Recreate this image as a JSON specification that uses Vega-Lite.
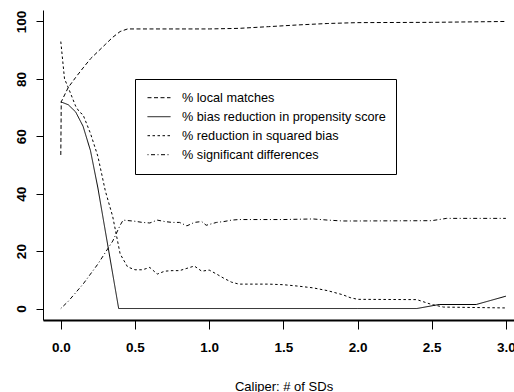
{
  "$schema": "https://vega.github.io/schema/vega-lite/v6.json",
  "width": 471,
  "height": 310,
  "autosize": {"type": "none"},
  "padding": {"left": 43, "top": 10, "right": 0, "bottom": 72},
  "background": "white",
  "config": {
    "font": "Liberation Sans",
    "view": {"stroke": null}
  },
  "datasets": {
    "series": [
      {"s": "% local matches", "x": 0, "y": 53.5},
      {"s": "% local matches", "x": 0.003, "y": 72},
      {"s": "% local matches", "x": 0.05, "y": 77},
      {"s": "% local matches", "x": 0.1, "y": 80.5},
      {"s": "% local matches", "x": 0.15, "y": 83.8},
      {"s": "% local matches", "x": 0.2, "y": 87},
      {"s": "% local matches", "x": 0.25, "y": 89.5},
      {"s": "% local matches", "x": 0.3, "y": 92},
      {"s": "% local matches", "x": 0.35, "y": 94.5},
      {"s": "% local matches", "x": 0.4, "y": 96.5},
      {"s": "% local matches", "x": 0.45, "y": 97.4},
      {"s": "% local matches", "x": 0.6, "y": 97.4},
      {"s": "% local matches", "x": 0.8, "y": 97.4},
      {"s": "% local matches", "x": 1.0, "y": 97.4},
      {"s": "% local matches", "x": 1.2, "y": 97.6},
      {"s": "% local matches", "x": 1.4, "y": 98.2},
      {"s": "% local matches", "x": 1.6, "y": 98.8},
      {"s": "% local matches", "x": 1.8, "y": 99.3},
      {"s": "% local matches", "x": 2.0, "y": 99.6},
      {"s": "% local matches", "x": 2.5, "y": 99.7},
      {"s": "% local matches", "x": 3.0, "y": 100},

      {"s": "% bias reduction in propensity score", "x": 0, "y": 72},
      {"s": "% bias reduction in propensity score", "x": 0.05, "y": 71},
      {"s": "% bias reduction in propensity score", "x": 0.1, "y": 68.5},
      {"s": "% bias reduction in propensity score", "x": 0.15, "y": 63.5},
      {"s": "% bias reduction in propensity score", "x": 0.2, "y": 55},
      {"s": "% bias reduction in propensity score", "x": 0.25, "y": 42},
      {"s": "% bias reduction in propensity score", "x": 0.3, "y": 27},
      {"s": "% bias reduction in propensity score", "x": 0.35, "y": 12},
      {"s": "% bias reduction in propensity score", "x": 0.39, "y": 0},
      {"s": "% bias reduction in propensity score", "x": 1.0, "y": 0},
      {"s": "% bias reduction in propensity score", "x": 2.0, "y": 0},
      {"s": "% bias reduction in propensity score", "x": 2.4, "y": 0},
      {"s": "% bias reduction in propensity score", "x": 2.55, "y": 1.4},
      {"s": "% bias reduction in propensity score", "x": 2.8, "y": 1.4},
      {"s": "% bias reduction in propensity score", "x": 3.0, "y": 4.3},

      {"s": "% reduction in squared bias", "x": 0, "y": 93},
      {"s": "% reduction in squared bias", "x": 0.025, "y": 80},
      {"s": "% reduction in squared bias", "x": 0.05, "y": 77},
      {"s": "% reduction in squared bias", "x": 0.1, "y": 70.5},
      {"s": "% reduction in squared bias", "x": 0.125, "y": 68.5},
      {"s": "% reduction in squared bias", "x": 0.15, "y": 67.5},
      {"s": "% reduction in squared bias", "x": 0.2, "y": 61},
      {"s": "% reduction in squared bias", "x": 0.25, "y": 53},
      {"s": "% reduction in squared bias", "x": 0.3, "y": 41},
      {"s": "% reduction in squared bias", "x": 0.35, "y": 32},
      {"s": "% reduction in squared bias", "x": 0.4, "y": 19},
      {"s": "% reduction in squared bias", "x": 0.45, "y": 14.5},
      {"s": "% reduction in squared bias", "x": 0.5, "y": 13.5},
      {"s": "% reduction in squared bias", "x": 0.55, "y": 13.5},
      {"s": "% reduction in squared bias", "x": 0.6, "y": 14.3},
      {"s": "% reduction in squared bias", "x": 0.65, "y": 12},
      {"s": "% reduction in squared bias", "x": 0.7, "y": 13},
      {"s": "% reduction in squared bias", "x": 0.75, "y": 13.2},
      {"s": "% reduction in squared bias", "x": 0.8, "y": 13.2},
      {"s": "% reduction in squared bias", "x": 0.85, "y": 14},
      {"s": "% reduction in squared bias", "x": 0.9, "y": 14.8},
      {"s": "% reduction in squared bias", "x": 0.95, "y": 13},
      {"s": "% reduction in squared bias", "x": 1.0, "y": 13.4},
      {"s": "% reduction in squared bias", "x": 1.05, "y": 12},
      {"s": "% reduction in squared bias", "x": 1.1, "y": 10.5},
      {"s": "% reduction in squared bias", "x": 1.15, "y": 9.2},
      {"s": "% reduction in squared bias", "x": 1.2, "y": 8.5},
      {"s": "% reduction in squared bias", "x": 1.3, "y": 8.5},
      {"s": "% reduction in squared bias", "x": 1.4, "y": 8.5},
      {"s": "% reduction in squared bias", "x": 1.5, "y": 8.3},
      {"s": "% reduction in squared bias", "x": 1.6, "y": 7.8},
      {"s": "% reduction in squared bias", "x": 1.7, "y": 7.2},
      {"s": "% reduction in squared bias", "x": 1.8, "y": 6.2},
      {"s": "% reduction in squared bias", "x": 1.9, "y": 4.8},
      {"s": "% reduction in squared bias", "x": 1.95, "y": 3.8},
      {"s": "% reduction in squared bias", "x": 2.0, "y": 3.2},
      {"s": "% reduction in squared bias", "x": 2.4, "y": 3.1},
      {"s": "% reduction in squared bias", "x": 2.5, "y": 1.4},
      {"s": "% reduction in squared bias", "x": 2.58, "y": 0.5},
      {"s": "% reduction in squared bias", "x": 3.0, "y": 0.2},

      {"s": "% significant differences", "x": 0, "y": 0},
      {"s": "% significant differences", "x": 0.05, "y": 2.5},
      {"s": "% significant differences", "x": 0.1, "y": 5.5},
      {"s": "% significant differences", "x": 0.15, "y": 8.5},
      {"s": "% significant differences", "x": 0.2, "y": 12},
      {"s": "% significant differences", "x": 0.25, "y": 15.5},
      {"s": "% significant differences", "x": 0.3, "y": 19.5},
      {"s": "% significant differences", "x": 0.35, "y": 23.5},
      {"s": "% significant differences", "x": 0.4, "y": 29},
      {"s": "% significant differences", "x": 0.42, "y": 30.8},
      {"s": "% significant differences", "x": 0.5, "y": 30.4},
      {"s": "% significant differences", "x": 0.55, "y": 30},
      {"s": "% significant differences", "x": 0.6, "y": 29.8},
      {"s": "% significant differences", "x": 0.65, "y": 30.8},
      {"s": "% significant differences", "x": 0.7, "y": 30.3},
      {"s": "% significant differences", "x": 0.75, "y": 30},
      {"s": "% significant differences", "x": 0.8, "y": 30},
      {"s": "% significant differences", "x": 0.85, "y": 28.8},
      {"s": "% significant differences", "x": 0.9, "y": 30},
      {"s": "% significant differences", "x": 0.95, "y": 30.3},
      {"s": "% significant differences", "x": 0.98, "y": 29},
      {"s": "% significant differences", "x": 1.05, "y": 30},
      {"s": "% significant differences", "x": 1.1, "y": 30.3},
      {"s": "% significant differences", "x": 1.15, "y": 30.8},
      {"s": "% significant differences", "x": 1.2, "y": 31},
      {"s": "% significant differences", "x": 1.5, "y": 31},
      {"s": "% significant differences", "x": 1.7, "y": 31.2},
      {"s": "% significant differences", "x": 1.8, "y": 30.8},
      {"s": "% significant differences", "x": 1.9, "y": 30.5},
      {"s": "% significant differences", "x": 2.0, "y": 30.5},
      {"s": "% significant differences", "x": 2.5, "y": 30.6},
      {"s": "% significant differences", "x": 2.6, "y": 31.4},
      {"s": "% significant differences", "x": 3.0, "y": 31.4}
    ]
  },
  "layer": [
    {
      "data": {"name": "series"},
      "mark": {"type": "line", "color": "black", "strokeWidth": 1},
      "encoding": {
        "x": {
          "field": "x", "type": "quantitative",
          "scale": {"domain": [-0.12, 3.0546], "nice": false, "zero": false},
          "axis": {
            "values": [0, 0.5, 1, 1.5, 2, 2.5, 3],
            "format": ".1f",
            "grid": false,
            "labelFlush": false,
            "labelOverlap": false,
            "labelFont": "Liberation Sans",
            "labelFontSize": 13.5,
            "labelFontWeight": "bold",
            "labelColor": "black",
            "labelPadding": 11,
            "tickSize": 9,
            "tickColor": "black",
            "domain": true,
            "domainColor": "black",
            "domainWidth": 2,
            "title": "Caliper: # of SDs",
            "titleFont": "Liberation Sans",
            "titleFontSize": 13,
            "titleFontWeight": "normal",
            "titleColor": "black",
            "titleX": 240.5,
            "titleY": 70,
            "titleAlign": "center",
            "titleBaseline": "alphabetic"
          }
        },
        "y": {
          "field": "y", "type": "quantitative",
          "scale": {"domain": [-4, 104], "nice": false, "zero": false},
          "axis": {
            "values": [0, 20, 40, 60, 80, 100],
            "grid": false,
            "labelAngle": -90,
            "labelAlign": "center",
            "labelBaseline": "bottom",
            "labelFont": "Liberation Sans",
            "labelFontSize": 13.5,
            "labelFontWeight": "bold",
            "labelColor": "black",
            "labelPadding": 8,
            "tickSize": 7,
            "tickColor": "black",
            "domain": true,
            "domainColor": "black",
            "domainWidth": 1,
            "title": null
          }
        },
        "strokeDash": {
          "field": "s", "type": "nominal",
          "scale": {
            "domain": ["% local matches", "% bias reduction in propensity score", "% reduction in squared bias", "% significant differences"],
            "range": [[4, 2.5], [1, 0], [2.5, 2.5], [1, 2.5, 4, 2.5]]
          },
          "legend": {
            "title": null,
            "orient": "none",
            "legendX": 92,
            "legendY": 69,
            "strokeColor": "black",
            "fillColor": "white",
            "padding": 9.5,
            "symbolType": "stroke",
            "symbolSize": 529,
            "symbolStrokeWidth": 1,
            "symbolStrokeColor": "black",
            "symbolOffset": 2.5,
            "clipHeight": 18.4,
            "rowPadding": 0,
            "labelOffset": 11,
            "labelFont": "Liberation Sans",
            "labelFontSize": 12.7,
            "labelColor": "black",
            "labelLimit": 400
          }
        }
      }
    },
    {
      "mark": {"type": "rule", "color": "black", "strokeWidth": 1},
      "encoding": {"y": {"datum": 104}}
    }
  ]
}
